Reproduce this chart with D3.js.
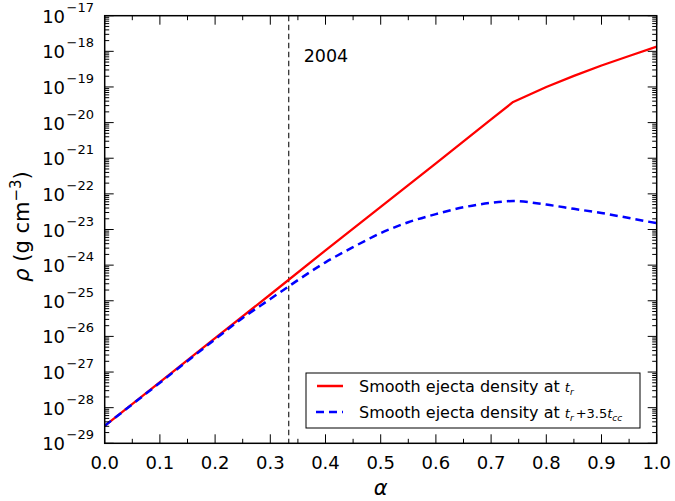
<!DOCTYPE html>
<html>
<head>
<meta charset="utf-8">
<script src="https://cdn.jsdelivr.net/npm/d3@7"></script>
<style>
  html, body { margin: 0; padding: 0; background: #fff; }
  svg { display: block; font-family: "DejaVu Sans", sans-serif; }
</style>
</head>
<body>
<svg id="chart" width="675" height="501"></svg>
<script>
// ---- data ----
const alphaRed = [0, 0.1, 0.2, 0.3, 0.4, 0.5, 0.6, 0.7, 0.74, 0.8, 0.85, 0.9, 0.95, 1.0];
const rhoRed   = [3.1e-29, 5.2e-28, 8.9e-27, 1.5e-25, 2.6e-24, 4.3e-23, 7.2e-22, 1.23e-20, 3.8e-20,
                  1.0e-19, 2.04e-19, 4.0e-19, 7.4e-19, 1.35e-18];
const alphaBlue = [0, 0.1, 0.2, 0.25, 0.3, 0.35, 0.4, 0.45, 0.5, 0.55, 0.6, 0.65, 0.7, 0.74,
                   0.8, 0.85, 0.9, 0.95, 1.0];
const rhoBlue   = [3.1e-29, 5.0e-28, 8.3e-27, 3.3e-26, 1.12e-25, 3.8e-25, 1.2e-24, 3.2e-24, 7.9e-24,
                   1.6e-23, 2.7e-23, 4.2e-23, 5.6e-23, 6.3e-23, 5.0e-23, 3.8e-23, 2.9e-23, 2.1e-23, 1.5e-23];
const xTickValues = [0, 0.1, 0.2, 0.3, 0.4, 0.5, 0.6, 0.7, 0.8, 0.9, 1.0];
const yExponents = [-29, -28, -27, -26, -25, -24, -23, -22, -21, -20, -19, -18, -17];
const markerAlpha = 1 / 3;
const markerLabel = "2004";
const legendLabels = ["Smooth ejecta density at ", "Smooth ejecta density at "];

// ---- layout ----
const L = 104.7, R = 656.7, T = 15.7, B = 443.3;
const svg = d3.select("#chart");
const x = d3.scaleLinear().domain([0, 1]).range([L, R]);
const y = d3.scaleLog().domain([1e-29, 1e-17]).range([B, T]);

svg.append("defs").append("clipPath").attr("id", "clip")
  .append("rect").attr("x", L).attr("y", T).attr("width", R - L).attr("height", B - T);

const plot = svg.append("g").attr("clip-path", "url(#clip)");

// vertical marker line
plot.append("line")
  .attr("x1", x(markerAlpha)).attr("x2", x(markerAlpha))
  .attr("y1", T).attr("y2", B)
  .attr("stroke", "#333").attr("stroke-width", 1.3)
  .attr("stroke-dasharray", "5.5,3.5");

svg.append("text").attr("x", x(markerAlpha) + 15).attr("y", 62)
  .attr("font-size", 17.5).attr("fill", "#000").text(markerLabel);

// lines
const red = alphaRed.map((a, i) => [a, rhoRed[i]]);
const blue = alphaBlue.map((a, i) => [a, rhoBlue[i]]);
const lineLin = d3.line().x(d => x(d[0])).y(d => y(d[1]));
const lineSmooth = d3.line().x(d => x(d[0])).y(d => y(d[1])).curve(d3.curveMonotoneX);

plot.append("path").datum(red).attr("d", lineLin)
  .attr("fill", "none").attr("stroke", "#ff0000").attr("stroke-width", 2.3)
  .attr("stroke-linejoin", "round");
plot.append("path").datum(blue).attr("d", lineSmooth)
  .attr("fill", "none").attr("stroke", "#0000ff").attr("stroke-width", 2.5)
  .attr("stroke-dasharray", "8,5");

// ---- axes / ticks ----
const tickG = svg.append("g").attr("stroke", "#000").attr("stroke-width", 1);
const majLen = 9, minLen = 4.5;
const xMinor = d3.range(0, 10).map(i => 0.05 + i * 0.1);
xTickValues.forEach(v => {
  const px = x(v);
  tickG.append("line").attr("x1", px).attr("x2", px).attr("y1", B).attr("y2", B - majLen);
  tickG.append("line").attr("x1", px).attr("x2", px).attr("y1", T).attr("y2", T + majLen);
});
xMinor.forEach(v => {
  const px = x(v);
  tickG.append("line").attr("x1", px).attr("x2", px).attr("y1", B).attr("y2", B - minLen);
  tickG.append("line").attr("x1", px).attr("x2", px).attr("y1", T).attr("y2", T + minLen);
});
yExponents.forEach(e => {
  const py = y(Math.pow(10, e));
  tickG.append("line").attr("x1", L).attr("x2", L + majLen).attr("y1", py).attr("y2", py);
  tickG.append("line").attr("x1", R).attr("x2", R - majLen).attr("y1", py).attr("y2", py);
  if (e < -17) {
    for (let k = 2; k <= 9; k++) {
      const pm = y(k * Math.pow(10, e));
      tickG.append("line").attr("x1", L).attr("x2", L + minLen).attr("y1", pm).attr("y2", pm);
      tickG.append("line").attr("x1", R).attr("x2", R - minLen).attr("y1", pm).attr("y2", pm);
    }
  }
});

// frame
svg.append("rect").attr("x", L).attr("y", T).attr("width", R - L).attr("height", B - T)
  .attr("fill", "none").attr("stroke", "#000").attr("stroke-width", 1.5);

// x tick labels
svg.append("g").selectAll("text").data(xTickValues).join("text")
  .attr("x", d => x(d)).attr("y", 468.5)
  .attr("text-anchor", "middle").attr("font-size", 18).attr("fill", "#000")
  .text(d => d.toFixed(1));

// y tick labels
const yl = svg.append("g").selectAll("text").data(yExponents).join("text")
  .attr("x", 94).attr("y", d => y(Math.pow(10, d)) + 7)
  .attr("text-anchor", "end").attr("fill", "#000");
yl.append("tspan").attr("font-size", 18).text("10");
yl.append("tspan").attr("font-size", 13).attr("dx", 1.5).attr("dy", -11)
  .text(d => "\u2212" + Math.abs(d));

// axis titles
svg.append("text").attr("x", x(0.5)).attr("y", 495)
  .attr("text-anchor", "middle").attr("font-size", 21).attr("font-style", "italic")
  .text("α");

const yt = svg.append("text")
  .attr("transform", `translate(29,${(T + B) / 2 - 3}) rotate(-90)`)
  .attr("text-anchor", "middle").attr("font-size", 21).attr("fill", "#000");
yt.append("tspan").attr("font-style", "italic").text("ρ");
yt.append("tspan").text(" (g cm");
yt.append("tspan").attr("font-size", 15).attr("dy", -8).text("\u22123");
yt.append("tspan").attr("dy", 8).text(")");

// ---- legend ----
const lg = svg.append("g");
lg.append("rect").attr("x", 306).attr("y", 373).attr("width", 334).attr("height", 55)
  .attr("fill", "#fff").attr("stroke", "#000").attr("stroke-width", 1);
const rows = [
  {y: 386, color: "#ff0000", dash: null},
  {y: 412, color: "#0000ff", dash: "8,5"}
];
rows.forEach((r, i) => {
  const ln = lg.append("line").attr("x1", 317).attr("x2", 343).attr("y1", r.y).attr("y2", r.y)
    .attr("stroke", r.color).attr("stroke-width", 2.5);
  if (r.dash) ln.attr("stroke-dasharray", r.dash).attr("x1", 316);
  const t = lg.append("text").attr("x", 359).attr("y", r.y + 6).attr("font-size", 16).attr("fill", "#000");
  t.append("tspan").text(legendLabels[i]);
  t.append("tspan").attr("font-style", "italic").attr("font-size", 13).text("t");
  t.append("tspan").attr("font-style", "italic").attr("font-size", 9).attr("dy", 3).text("r");
  if (i === 1) {
    t.append("tspan").attr("font-size", 13).attr("dy", -3).attr("dx", 2).text("+3.5");
    t.append("tspan").attr("font-style", "italic").attr("font-size", 13).text("t");
    t.append("tspan").attr("font-style", "italic").attr("font-size", 9).attr("dy", 3).text("cc");
  }
});
</script>
</body>
</html>
